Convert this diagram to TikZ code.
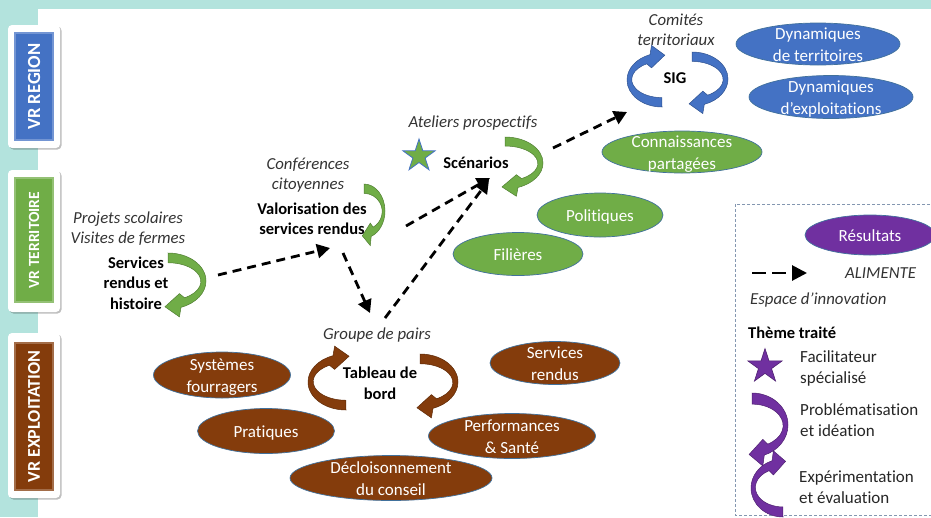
\documentclass[tikz,border=0pt]{standalone}
\usepackage{fontspec}
\setmainfont{Carlito}[Ligatures=NoCommon, Contextuals=NoAlternate]
\usetikzlibrary{shapes.geometric,arrows.meta,shadows}
\definecolor{bgteal}{HTML}{B3E3DD}
\definecolor{blueA}{HTML}{4472C4}
\definecolor{blueD}{HTML}{2F528F}
\definecolor{grnA}{HTML}{70AD47}
\definecolor{grnD}{HTML}{507E32}
\definecolor{brnA}{HTML}{843C0C}
\definecolor{brnD}{HTML}{5E2A08}
\definecolor{purA}{HTML}{7030A0}
\definecolor{purD}{HTML}{4E2170}
\definecolor{elline}{HTML}{41719C}
\definecolor{legline}{HTML}{8497B0}
\newcommand\ET[1]{\raisebox{-0.38em}[0pt][0pt]{\makebox[0pt]{\begin{tabular}{@{}c@{}}#1\end{tabular}}}}
\tikzset{
  carrow/.pic={
    \path[pic actions] (0,-1) arc[start angle=-90,end angle=70,x radius=1,y radius=1]
      -- (0.3,1.28) -- (-0.08,0.92) -- (0.3,0.45) -- (0.435,0.598)
      arc[start angle=60,end angle=-90,x radius=0.86,y radius=0.67] -- cycle;
  },
  ell/.style={ellipse, inner sep=0pt, draw=elline, line width=0.7pt, text=white,
    font=\fontsize{17}{21.5}\selectfont},
  lbl/.style={font=\fontsize{16.8}{20.5}\selectfont\itshape, text=black!80, align=center, inner sep=0pt},
  bld/.style={font=\fontsize{16.5}{20.5}\selectfont\bfseries, align=center, inner sep=0pt},
  leg/.style={font=\fontsize{17}{21}\selectfont, text=black!85, align=left, inner sep=0pt, anchor=west},
  dasharr/.style={line width=2.8pt, dash pattern=on 9pt off 6pt, -{Triangle[length=13pt,width=14pt]}},
  whitebox/.style={fill=white, rounded corners=4pt, minimum width=52pt, inner sep=0pt,
    drop shadow={shadow xshift=1.5pt, shadow yshift=-1.5pt, fill=black, opacity=0.25}},
  vrin/.style={rotate=90, minimum height=38pt, inner sep=0pt, line width=2pt, text=white,
    font=\bfseries},
  gcurve/.style={fill=grnA, draw=grnD, line width=0.5pt},
  bcurve/.style={fill=blueA, draw=blueD, line width=0.5pt},
  rcurve/.style={fill=brnA, draw=brnD, line width=0.5pt},
  pcurve/.style={fill=purA, draw=purD, line width=0.5pt},
}
\begin{document}
\begin{tikzpicture}[x=1pt,y=-1pt]
\useasboundingbox (0,0) rectangle (931,517);
% background bands
\fill[bgteal] (0,0) rectangle (931,9);
\fill[bgteal] (0,0) rectangle (38,517);
% VR labels
\node[whitebox, minimum height=123pt] (boxR) at (34,86.5) {};
\node[vrin, fill=blueA, draw=blueA!75!white, minimum width=107pt, font=\fontsize{18.5}{20}\selectfont\bfseries] (vrR) at (34,86.5) {VR REGION};
\node[whitebox, minimum height=142pt] (boxT) at (34,241) {};
\node[vrin, fill=grnA, draw=grnA!75!white, minimum width=124pt, font=\fontsize{15.5}{18}\selectfont\bfseries] (vrT) at (34,240) {VR TERRITOIRE};
\node[whitebox, minimum height=165pt] (boxE) at (34,415.5) {};
\node[vrin, fill=brnA, draw=brnA!75!white, minimum width=147pt, font=\fontsize{18}{19}\selectfont\bfseries] (vrE) at (34,416.5) {VR EXPLOITATION};

% legend frame
\draw[legline, line width=0.8pt, dash pattern=on 3pt off 2pt] (735,204) rectangle (934,515);

% ellipses
\node[ell, fill=blueA, minimum width=164pt, minimum height=42pt] (dynT) at (818,44) {\ET{Dynamiques\\de territoires}};
\node[ell, fill=blueA, minimum width=164pt, minimum height=43pt] (dynE) at (831,97) {\ET{Dynamiques\\d’exploitations}};
\node[ell, fill=grnA, minimum width=160pt, minimum height=42pt] (conn) at (682,152) {\ET{Connaissances\\partagées}};
\node[ell, fill=grnA, minimum width=126pt, minimum height=44pt] (pol) at (600,215) {\ET{Politiques}};
\node[ell, fill=grnA, minimum width=130pt, minimum height=43pt] (fil) at (518,254) {\ET{Filières}};
\node[ell, fill=purA, minimum width=130pt, minimum height=40pt] (res) at (870,235) {\ET{Résultats}};
\node[ell, fill=brnA, minimum width=137pt, minimum height=46pt] (sysf) at (222,375) {\ET{Systèmes\\fourragers}};
\node[ell, fill=brnA, minimum width=137pt, minimum height=45pt] (prat) at (266,431) {\ET{Pratiques}};
\node[ell, fill=brnA, minimum width=202pt, minimum height=45pt] (decl) at (391,478) {\ET{Décloisonnement\\du conseil}};
\node[ell, fill=brnA, minimum width=130pt, minimum height=43pt] (servr) at (555,363) {\ET{Services\\rendus}};
\node[ell, fill=brnA, minimum width=167pt, minimum height=45pt] (perf) at (512,436) {\ET{Performances\\\& Santé}};

% curved arrows
\pic[gcurve, xscale=38, yscale=26] (cScen) at (505,163) {carrow};
\pic[gcurve, xscale=38, yscale=28] (cSrh) at (168,281) {carrow};
\pic[gcurve, xscale=21, yscale=27] (cValo) at (364,211) {carrow};
\pic[bcurve, xscale=36, yscale=27] (cSigR) at (692,79) {carrow};
\pic[bcurve, xscale=-35, yscale=-27] (cSigL) at (662,80) {carrow};
\pic[rcurve, xscale=38, yscale=28] (cTdbR) at (420,382) {carrow};
\pic[rcurve, xscale=-38, yscale=-28] (cTdbL) at (346,382) {carrow};
\pic[pcurve, xscale=36, yscale=32] (cLeg1) at (752,425) {carrow};
\pic[pcurve, xscale=-32, yscale=-29] (cLeg2) at (783,488) {carrow};

% stars
\node[star, star points=5, star point ratio=2.618, minimum size=34pt, inner sep=0pt, fill=grnA, draw=blueA, line width=0.8pt] (starG) at (419,156) {};
\node[star, star points=5, star point ratio=2.618, minimum size=36pt, inner sep=0pt, fill=purA, draw=purD, line width=0.6pt] (starP) at (765,366.5) {};

% texts
\node[lbl] (comites) at (676,30) {Comités\\territoriaux};
\node[bld] (sig) at (675,78) {SIG};
\node[lbl] (ateliers) at (473,123) {Ateliers prospectifs};
\node[bld] (scen) at (476,163) {Scénarios};
\node[lbl] (conf) at (308,175) {Conférences\\citoyennes};
\node[bld] (valo) at (312,219) {Valorisation des\\services rendus};
\node[lbl] (projets) at (128,228.5) {Projets scolaires\\Visites de fermes};
\node[bld] (srh) at (136,283) {Services\\rendus et\\histoire};
\node[lbl] (groupe) at (377,335) {Groupe de pairs};
\node[bld] (tdb) at (380,383.5) {Tableau de\\bord};

% legend texts
\node[lbl, anchor=west] (alim) at (845,273) {ALIMENTE};
\node[lbl, anchor=west] (espace) at (750,300) {Espace d’innovation};
\node[bld, anchor=west] (theme) at (748,333) {Thème traité};
\node[leg] (facil) at (800,368) {Facilitateur\\spécialisé};
\node[leg] (prob) at (800,420) {Problématisation\\et idéation};
\node[leg] (expe) at (799,487) {Expérimentation\\et évaluation};

% connector end points
\coordinate (srhOut) at (218,275);
\coordinate (valoIn) at (330,248);
\coordinate (valoOut) at (343,253);
\coordinate (grpIn) at (370,313);
\coordinate (valoOut2) at (406,226);
\coordinate (scenIn) at (490,178);
\coordinate (grpOut) at (385,318);
\coordinate (scenIn2) at (489,180);
\coordinate (scenOut) at (553,148);
\coordinate (sigIn) at (627,112);
\coordinate (legA) at (752,273);
\coordinate (legB) at (807,273);

\draw[dasharr] (srhOut) -- (valoIn);
\draw[dasharr] (valoOut) -- (grpIn);
\draw[dasharr] (valoOut2) -- (scenIn);
\draw[dasharr] (grpOut) -- (scenIn2);
\draw[dasharr] (scenOut) -- (sigIn);
\draw[line width=2.8pt, dash pattern=on 14pt off 6pt, -{Triangle[length=15pt,width=15pt]}] (legA) -- (legB);
\end{tikzpicture}
\end{document}
